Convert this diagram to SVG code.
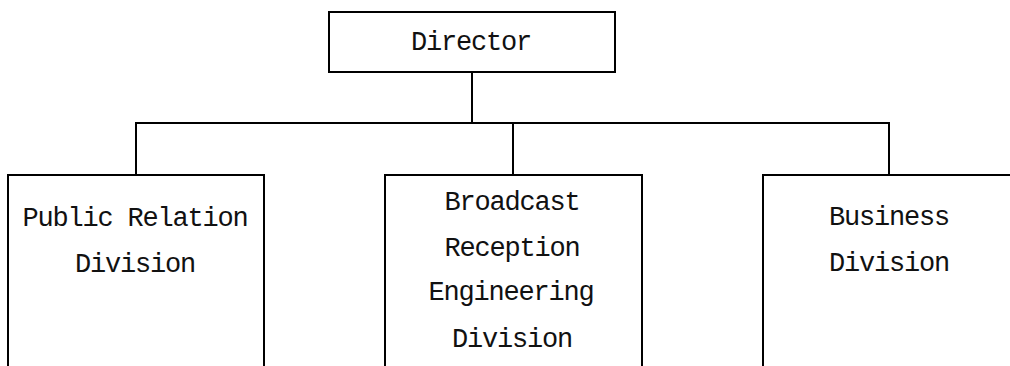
<svg xmlns="http://www.w3.org/2000/svg" width="1010" height="366" viewBox="0 0 1010 366">
  <style>
    .box { fill: #ffffff; stroke: #000000; stroke-width: 2; }
    .wire { fill: none; stroke: #000000; stroke-width: 2; }
    .label { font-family: "Liberation Mono", "DejaVu Sans Mono", monospace; font-size: 27px; letter-spacing: -1.2px; fill: #111111; text-anchor: middle; }
  </style>
  <rect width="1010" height="366" fill="#ffffff"/>

  <!-- org chart connectors -->
  <g id="connectors">
    <path class="wire" d="M472 72 V123"/>
    <path class="wire" d="M135 123 H890"/>
    <path class="wire" d="M136 123 V175"/>
    <path class="wire" d="M513 123 V175"/>
    <path class="wire" d="M889 123 V175"/>
  </g>

  <g id="director">
    <rect class="box" x="329" y="12" width="286" height="60"/>
    <text class="label" x="471" y="50">Director</text>
  </g>

  <g id="public-relation">
    <path class="wire" d="M8 366 V175 H264 V366"/>
    <text class="label" x="135" y="226">Public Relation</text>
    <text class="label" x="135" y="272">Division</text>
  </g>

  <g id="broadcast-reception">
    <path class="wire" d="M385 366 V175 H642 V366"/>
    <text class="label" x="512" y="210">Broadcast</text>
    <text class="label" x="512" y="256">Reception</text>
    <text class="label" x="511" y="300">Engineering</text>
    <text class="label" x="512" y="347">Division</text>
  </g>

  <g id="business">
    <path class="wire" d="M763 366 V175 H1010"/>
    <text class="label" x="889" y="225">Business</text>
    <text class="label" x="889" y="271">Division</text>
  </g>
</svg>
